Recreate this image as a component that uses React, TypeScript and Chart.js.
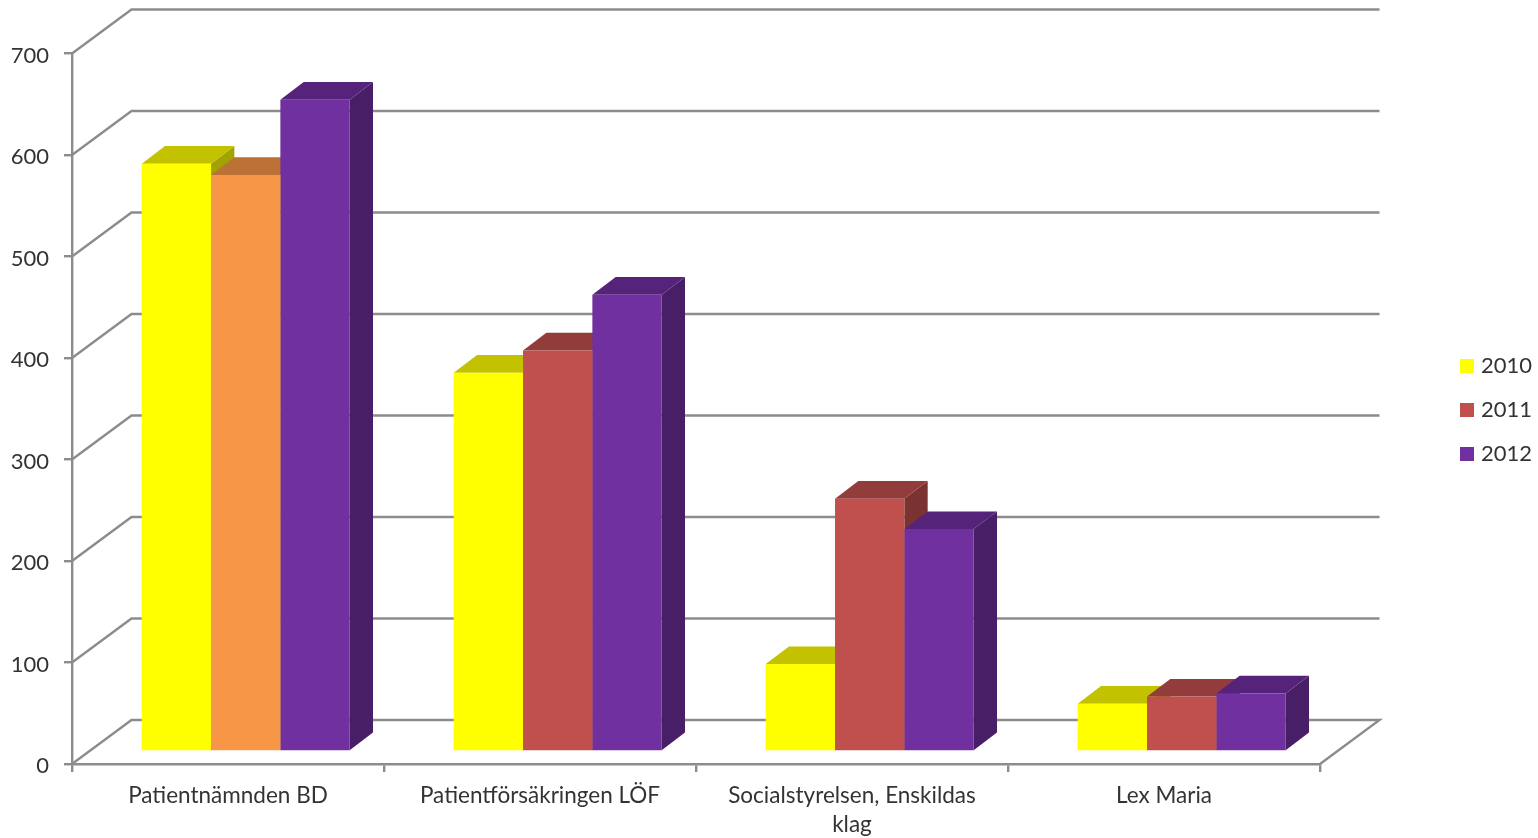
import React, { useEffect, useRef } from "react";
import { Chart, registerables } from "chart.js";

Chart.register(...registerables);

const categories = [
  "Patientnämnden BD",
  "Patientförsäkringen LÖF",
  ["Socialstyrelsen, Enskildas", "klag"],
  "Lex Maria",
];
const series2010 = [579, 373, 86, 47];
const series2011 = [568, 395, 249, 54];
const series2012 = [642, 450, 219, 57];

const YELLOW = "#FFFF00";
const RED = "#C0504D";
const ORANGE = "#F79646";
const PURPLE = "#7030A0";
const legendColors = [YELLOW, RED, PURPLE];
const AXIS = "#8C8C8C";
const TEXT = "#333333";
const FONT = "Lato";

const WALL_DX = 59.5;
const WALL_DY = 44;
const BAR_SHIFT_X = 17.7;
const BAR_SHIFT_Y = -12.6;
const DEPTH_X = 23.3;
const DEPTH_Y = 17.7;

function shade(hex: string, f: number) {
  const n = parseInt(hex.slice(1), 16);
  const c = [(n >> 16) & 255, (n >> 8) & 255, n & 255].map((v) => Math.round(v * f));
  return `rgb(${c[0]},${c[1]},${c[2]})`;
}

function poly(ctx: CanvasRenderingContext2D, pts: number[][], fill: string) {
  ctx.beginPath();
  pts.forEach((p, i) => (i ? ctx.lineTo(p[0], p[1]) : ctx.moveTo(p[0], p[1])));
  ctx.closePath();
  ctx.fillStyle = fill;
  ctx.fill();
}

const legendPlacement = {
  id: "legendPlacement",
  beforeLayout(chart: any) {
    const l = chart.legend;
    if (l && !l.__patched) {
      const fit = l.fit;
      l.fit = function () {
        fit.call(this);
        this.width = 218;
      };
      l.__patched = true;
    }
  },
  afterLayout(chart: any) {
    const l = chart.legend;
    l.left = 1442;
    l.right = 1538;
    l.top = 333;
    l.bottom = 838;
  },
};

const threeD = {
  id: "threeD",
  beforeDatasetsDraw(chart: any) {
    const { ctx, scales, chartArea } = chart;
    const y = scales.y;
    ctx.save();
    ctx.strokeStyle = AXIS;
    ctx.lineWidth = 2.4;
    ctx.lineJoin = "miter";
    y.ticks.forEach((t: any) => {
      const py = y.getPixelForValue(t.value);
      ctx.beginPath();
      ctx.moveTo(chartArea.left, py);
      ctx.lineTo(chartArea.left + WALL_DX, py - WALL_DY);
      ctx.lineTo(chartArea.right + WALL_DX, py - WALL_DY);
      if (t.value === 0) ctx.lineTo(chartArea.right, py);
      ctx.stroke();
    });
    ctx.translate(BAR_SHIFT_X, BAR_SHIFT_Y);
    const metas = chart.getSortedVisibleDatasetMetas().slice().sort((a: any, b: any) => a.index - b.index);
    categories.forEach((_, i) => {
      metas.forEach((meta: any) => {
        const el = meta.data[i];
        const { x, y: top, base, width } = el.getProps(["x", "y", "base", "width"], true);
        const color = el.options.backgroundColor;
        const l = x - width / 2;
        const r = x + width / 2;
        poly(ctx, [[r, base], [r + DEPTH_X, base - DEPTH_Y], [r + DEPTH_X, top - DEPTH_Y], [r, top]], shade(color, 0.64));
        poly(ctx, [[l, top], [l + DEPTH_X, top - DEPTH_Y], [r + DEPTH_X, top - DEPTH_Y], [r, top]], shade(color, 0.76));
      });
    });
  },
  afterDatasetsDraw(chart: any) {
    chart.ctx.restore();
  },
};

export default function App() {
  const ref = useRef<HTMLCanvasElement>(null);
  useEffect(() => {
    const redForYear = (c: any) => (c.dataIndex === 0 ? ORANGE : RED);
    const chart = new Chart(ref.current!, {
      type: "bar",
      plugins: [legendPlacement, threeD],
      data: {
        labels: categories as any,
        datasets: [
          { label: "2010", data: series2010, backgroundColor: YELLOW, clip: false as any },
          { label: "2011", data: series2011, backgroundColor: redForYear as any, clip: false as any },
          { label: "2012", data: series2012, backgroundColor: PURPLE, clip: false as any },
        ],
      },
      options: {
        responsive: false,
        animation: false,
        devicePixelRatio: 1,
        layout: { padding: { left: 0, right: 0, top: 53.5, bottom: 0 } },
        datasets: { bar: { categoryPercentage: 2 / 3, barPercentage: 1, borderWidth: 0 } },
        plugins: {
          title: { display: false },
          tooltip: { enabled: false },
          legend: {
            position: "right",
            align: "start",
            labels: {
              boxWidth: 6,
              boxHeight: 6,
              padding: 22,
              color: TEXT,
              font: { family: FONT, size: 22 },
              generateLabels: (c: any) =>
                Chart.defaults.plugins.legend.labels.generateLabels(c).map((item: any, i: number) => ({
                  ...item,
                  fillStyle: legendColors[i],
                  lineWidth: 8,
                  strokeStyle: legendColors[i],
                })),
            },
          },
        },
        scales: {
          x: {
            afterFit: (s: any) => {
              s.height = 74;
            },
            grid: { drawOnChartArea: false, drawTicks: true, tickLength: 8, color: AXIS, lineWidth: 2.4 },
            border: { display: true, color: AXIS, width: 2.4 },
            ticks: {
              color: TEXT,
              font: { family: FONT, size: 22.5, lineHeight: 1.3 },
              padding: 9,
              maxRotation: 0,
              autoSkip: false,
            },
          },
          y: {
            min: 0,
            max: 700,
            afterFit: (s: any) => {
              s.width = 72;
            },
            grid: { drawOnChartArea: false, drawTicks: true, tickLength: 8, color: AXIS, lineWidth: 2.4 },
            border: { display: true, color: AXIS, width: 2.4 },
            ticks: {
              stepSize: 100,
              color: TEXT,
              font: { family: FONT, size: 22 },
              padding: 15,
              labelOffset: 2,
            },
          },
        },
      },
    } as any);
    return () => chart.destroy();
  }, []);
  return (
    <div style={{ position: "absolute", left: 0, top: 0, width: 1538, height: 838, background: "#fff" }}>
      <canvas ref={ref} width={1538} height={838} style={{ display: "block" }} />
    </div>
  );
}
